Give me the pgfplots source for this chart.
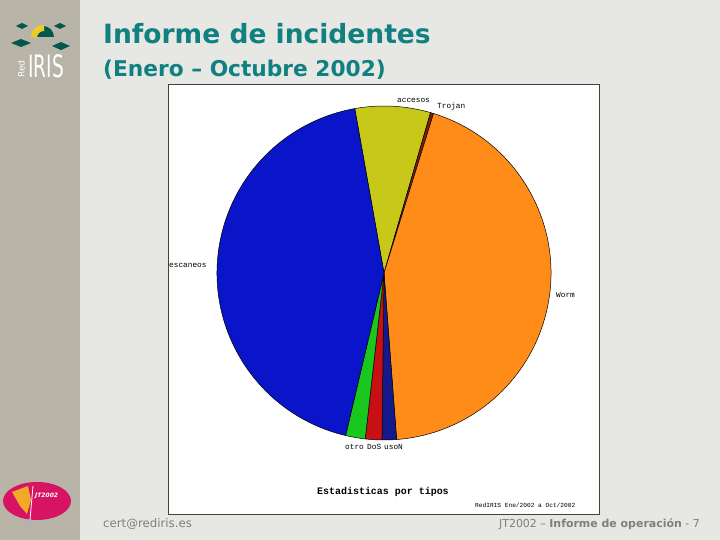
\documentclass[border=0pt]{standalone}
\usepackage{pgfplots}
\pgfplotsset{compat=1.18}
\usepackage{pgfplotstable}
\usepackage{graphicx}
\usepackage{fontspec}
\setmainfont{DejaVu Sans}
\newfontfamily\monofont{Liberation Mono}

\definecolor{slidebg}{RGB}{231,231,228}
\definecolor{barbg}{RGB}{184,180,168}
\definecolor{titleteal}{RGB}{16,128,128}
\definecolor{footgray}{RGB}{128,128,120}
\definecolor{logoteal}{RGB}{0,88,78}
\definecolor{logoyel}{RGB}{240,200,40}
\definecolor{jtpink}{RGB}{215,20,100}
\definecolor{jtyel}{RGB}{240,170,40}
% slice colours
\definecolor{cAcc}{RGB}{200,200,25}
\definecolor{cTro}{RGB}{130,30,10}
\definecolor{cWor}{RGB}{255,140,25}
\definecolor{cUso}{RGB}{20,25,140}
\definecolor{cDos}{RGB}{200,15,20}
\definecolor{cOtr}{RGB}{25,200,30}
\definecolor{cEsc}{RGB}{10,20,200}

% percentages, clockwise from the top
\pgfplotstableread{
name     value col
accesos  7.3   cAcc
Trojan   0.3   cTro
Worm     44.0  cWor
usoN     1.4   cUso
DoS      1.6   cDos
otro     1.9   cOtr
escaneos 43.5  cEsc
}\piedata

\begin{document}
\begin{tikzpicture}
\useasboundingbox (0,0) rectangle (720bp,540bp);
\fill[slidebg] (0,0) rectangle (720bp,540bp);
\fill[barbg] (0,0) rectangle (80bp,540bp);

\begin{scope}[x=1bp,y=-1bp,shift={(0,540bp)}]
  % RedIRIS logo (angles: 270 points up here)
  \fill[logoteal] (16,26) -- (22,23) -- (28,26) -- (22,29) -- cycle;
  \fill[logoteal] (54,26) -- (60,23) -- (66,26) -- (60,29) -- cycle;
  \fill[logoteal] (11,43) -- (21,39) -- (31,43) -- (21,47) -- cycle;
  \fill[logoteal] (52,46) -- (61,42) -- (70,46) -- (61,50) -- cycle;
  \fill[logoteal] (32,37) arc[start angle=180, end angle=360, radius=11] -- cycle;
  \fill[logoyel] (31,37) arc[start angle=180, end angle=275, radius=12]
     -- (44,31) arc[start angle=270, end angle=180, radius=7] -- cycle;
  \node[anchor=base west, inner sep=0, text=white,
        font=\fontsize{31}{31}\selectfont] at (28,78) {\scalebox{0.6}[1]{IRIS}};
  \node[anchor=base west, inner sep=0, text=white, rotate=90,
        font=\fontsize{9}{9}\selectfont] at (24.5,78) {Red};
  % JT2002 logo
  \fill[jtpink] (37,501) ellipse[x radius=34, y radius=19];
  \fill[jtyel] (12,492) -- (28,486) -- (31,500) -- (27,514) -- (20,506) -- cycle;
  \draw[white, line width=0.8pt] (33,486) -- (30,520);
  \fill[gray!60!white] (26,521) -- (31,519) -- (32,527) -- (27,531) -- (24,527) -- cycle;
  \node[anchor=base west, inner sep=0, text=white,
        font=\bfseries\itshape\fontsize{6}{6}\selectfont] at (35,498) {JT2002};

  % titles
  \node[anchor=base west, inner sep=0, text=titleteal,
        font=\bfseries\fontsize{26.6}{26.6}\selectfont] at (103,44) {Informe de incidentes};
  \node[anchor=base west, inner sep=0, text=titleteal,
        font=\bfseries\fontsize{21.8}{21.8}\selectfont] at (103,76.5) {(Enero – Octubre 2002)};

  % footer
  \node[anchor=base west, inner sep=0, text=footgray,
        font=\fontsize{11.8}{11.8}\selectfont] at (103,528) {cert@rediris.es};
  \node[anchor=base east, inner sep=0, text=footgray,
        font=\fontsize{11}{11}\selectfont] at (700,528) {JT2002 – \textbf{Informe de operación} - 7};

  % chart frame
  \filldraw[fill=white, draw=black!75, line width=0.8pt] (168,84) rectangle (599,514);
  \node[anchor=base west, inner sep=0,
        font=\monofont\bfseries\fontsize{10}{10}\selectfont] at (317,495) {Estadisticas por tipos};
  \node[anchor=base west, inner sep=0,
        font=\monofont\fontsize{6.2}{6.2}\selectfont] at (475,508) {RedIRIS Ene/2002 a Oct/2002};

  % slice labels
  \begin{scope}[every node/.style={anchor=base west, inner sep=0,
                 font=\monofont\fontsize{7.8}{7.8}\selectfont}]
    \node at (397,103) {accesos};
    \node at (437,109) {Trojan};
    \node at (556,298) {Worm};
    \node at (169,268) {escaneos};
    \node at (345,450) {otro};
    \node at (367,450) {DoS};
    \node at (384,450) {usoN};
  \end{scope}
\end{scope}

\begin{axis}[
    at={(384bp,267bp)}, anchor=origin,
    x=167bp, y=167bp,
    xmin=-1.05, xmax=1.05, ymin=-1.05, ymax=1.05,
    hide axis, clip=false,
]
\pgfplotsextra{
  \pgfplotstablegetrowsof{\piedata}
  \pgfmathtruncatemacro\lastrow{\pgfplotsretval-1}
  \xdef\curang{100.1}
  \foreach \i in {0,...,\lastrow}{
    \pgfplotstablegetelem{\i}{value}\of\piedata
    \let\slv\pgfplotsretval
    \pgfplotstablegetelem{\i}{col}\of\piedata
    \let\slcol\pgfplotsretval
    \pgfmathsetmacro\nxtang{\curang-3.6*\slv}
    \filldraw[fill=\slcol, draw=black, line width=0.5pt]
      (axis cs:0,0) -- ++(\curang:167bp)
      arc[start angle=\curang, end angle=\nxtang, radius=167bp] -- cycle;
    \xdef\curang{\nxtang}
  }
}
\end{axis}
\end{tikzpicture}
\end{document}
